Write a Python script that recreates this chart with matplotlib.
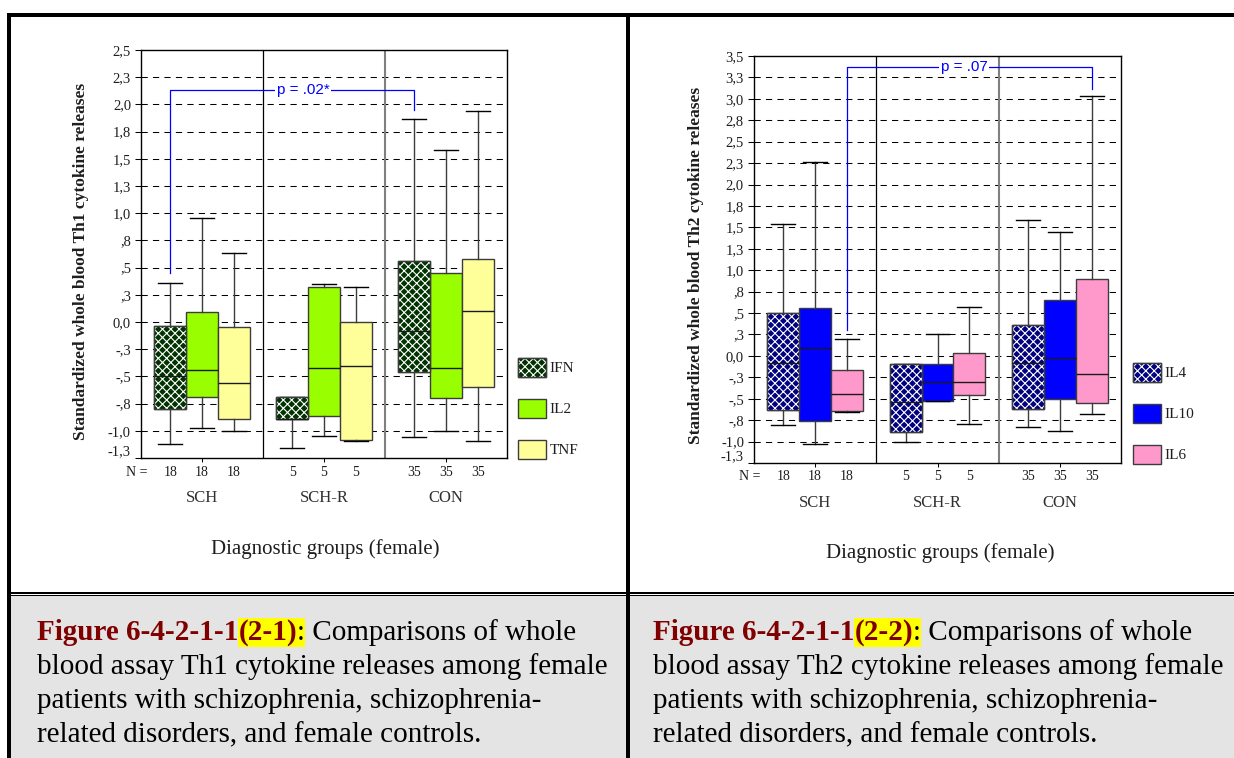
import matplotlib
matplotlib.use('Agg')
import matplotlib.pyplot as plt
from matplotlib.patches import Rectangle, PathPatch
from matplotlib.transforms import Affine2D

W, H = 1234, 758

# ---------------- data ----------------
groups = ['SCH', 'SCH-R', 'CON']
n_per_group = [18, 5, 35]

# five-number summaries per group: [whisker low, Q1, median, Q3, whisker high]
th1_names = ['IFN', 'IL2', 'TNF']
ifn = [[-1.12, -0.80, -0.50, -0.04, 0.36],
       [-1.16, -0.89, -0.89, -0.69, -0.69],
       [-1.06, -0.46, -0.08, 0.56, 1.87]]
il2 = [[-0.97, -0.69, -0.44, 0.09, 0.96],
       [-1.05, -0.86, -0.42, 0.32, 0.35],
       [-1.00, -0.70, -0.42, 0.45, 1.58]]
tnf = [[-1.00, -0.89, -0.56, -0.05, 0.63],
       [-1.09, -1.08, -0.40, 0.00, 0.32],
       [-1.09, -0.60, 0.10, 0.58, 1.94]]

th2_names = ['IL4', 'IL10', 'IL6']
il4 = [[-0.81, -0.63, -0.08, 0.50, 1.54],
       [-1.01, -0.89, -0.54, -0.10, -0.10],
       [-0.83, -0.62, -0.08, 0.36, 1.59]]
il10 = [[-1.03, -0.76, 0.09, 0.56, 2.26],
        [-0.53, -0.53, -0.30, -0.09, 0.25],
        [-0.88, -0.50, -0.02, 0.65, 1.45]]
il6 = [[-0.66, -0.64, -0.45, -0.16, 0.20],
       [-0.79, -0.46, -0.30, 0.03, 0.57],
       [-0.68, -0.55, -0.21, 0.90, 3.03]]

th1_ticks = [-1.25, -1.0, -0.75, -0.5, -0.25, 0.0, 0.25, 0.5, 0.75, 1.0,
             1.25, 1.5, 1.75, 2.0, 2.25, 2.5]
th1_ticklabels = ['-1,3', '-1,0', '-,8', '-,5', '-,3', '0,0', ',3', ',5', ',8', '1,0',
                  '1,3', '1,5', '1,8', '2,0', '2,3', '2,5']
th2_ticks = th1_ticks + [2.75, 3.0, 3.25, 3.5]
th2_ticklabels = th1_ticklabels + ['2,8', '3,0', '3,3', '3,5']

# significance brackets: (series index, y at left group, y top, y at right group, label, label x)
sig_th1 = (0, 0.45, 2.13, 1.95, 'p = .02*', 1.33)
sig_th2 = (2, 0.30, 3.37, 3.11, 'p = .07', 1.72)

th1_colors = ['#003300', '#99ff00', '#ffff99']
th2_colors = ['#000080', '#0000ff', '#ff99cc']
hatched = [True, False, False]

caption_left = [
    [('Figure 6-4-2-1-1', '#800000', 'bold', False), ('(2-1)', '#800000', 'bold', True),
     (':', 'black', 'normal', True), (' Comparisons of whole', 'black', 'normal', False)],
    [('blood assay Th1 cytokine releases among female', 'black', 'normal', False)],
    [('patients with schizophrenia, schizophrenia-', 'black', 'normal', False)],
    [('related disorders, and female controls.', 'black', 'normal', False)],
]
caption_right = [
    [('Figure 6-4-2-1-1', '#800000', 'bold', False), ('(2-2)', '#800000', 'bold', True),
     (':', 'black', 'normal', True), (' Comparisons of whole', 'black', 'normal', False)],
    [('blood assay Th2 cytokine releases among female', 'black', 'normal', False)],
    [('patients with schizophrenia, schizophrenia-', 'black', 'normal', False)],
    [('related disorders, and female controls.', 'black', 'normal', False)],
]

# ---------------- figure ----------------
SERIF = 'Liberation Serif'
SANS = 'Liberation Sans'
TXT = '#1e1e1e'
plt.rcParams['hatch.linewidth'] = 0.8

fig = plt.figure(figsize=(W / 100, H / 100), dpi=100)
fig.patch.set_facecolor('white')
T = Affine2D().scale(1 / W, -1 / H).translate(0, 1) + fig.transFigure


def prect(x0, y0, x1, y1, **kw):
    r = Rectangle((x0, y0), x1 - x0, y1 - y0, transform=T, **kw)
    fig.add_artist(r)
    return r


# page frame
prect(11, 596, 1234, 758, facecolor='#e4e4e4', lw=0, zorder=0)
for (a, b, c, d) in [(7, 13, 1234, 17), (7, 13, 11, 758), (626, 13, 630, 758),
                     (7, 592.3, 1234, 593.7), (7, 594.7, 1234, 596)]:
    prect(a, b, c, d, facecolor='black', lw=0, zorder=1)

BW = 0.26
HATCH = 'xxxx'


def make_axes(box):
    x0, y0, x1, y1 = box
    return fig.add_axes([x0 / W, 1 - y1 / H, (x1 - x0) / W, (y1 - y0) / H])


def draw_panel(ax, series, colors, ticks, ticklabels, sig, legend_xy, names,
               ylabel, ylabel_xy, xlabel_xy):
    ax.set_xlim(0, 3)
    ax.set_ylim(ticks[0], ticks[-1])
    ax.set_facecolor('white')
    for s in ax.spines.values():
        s.set_linewidth(1.0)
        s.set_color('black')
    for v in ticks[1:-1]:
        ax.axhline(v, color='black', lw=0.75, ls=(0, (6, 5)), zorder=1)
    ax.axvline(1, color='black', lw=0.9, zorder=1.5)
    ax.axvline(2, color='#808080', lw=1.5, zorder=1.5)

    offsets = [-BW, 0, BW]
    centers = [g + 0.5 for g in range(3)]
    for si, stats in enumerate(series):
        pos = [c + offsets[si] for c in centers]
        st = [dict(whislo=s[0], q1=s[1], med=s[2], q3=s[3], whishi=s[4], fliers=[]) for s in stats]
        res = ax.bxp(st, positions=pos, widths=BW, capwidths=0.75 * BW, patch_artist=True,
                     showfliers=False, manage_ticks=False, zorder=3,
                     boxprops=dict(facecolor=colors[si], edgecolor='#3c3c3c', linewidth=1.0),
                     whiskerprops=dict(color='#3c3c3c', linewidth=1.0),
                     capprops=dict(color='black', linewidth=1.0),
                     medianprops=dict(color='#1a1a1a', linewidth=1.0))
        if hatched[si]:
            for b in res['boxes']:
                ax.add_patch(PathPatch(b.get_path(), facecolor='none', edgecolor='white',
                                       hatch=HATCH, lw=0, zorder=3.03))
                ax.add_patch(PathPatch(b.get_path(), facecolor='none', edgecolor='#3c3c3c',
                                       lw=1.0, zorder=3.06))

    # ticks
    ax.set_yticks(ticks)
    ax.set_yticklabels(ticklabels, fontfamily=SERIF, fontsize=10.5, color=TXT)
    ax.get_yticklabels()[0].set_va('bottom')
    ax.set_xticks(centers)
    ax.set_xticklabels([''] * 3)
    ax.tick_params(axis='y', length=4.3, width=0.75, pad=2.9, color='black')
    ax.tick_params(axis='x', length=3, width=0.75, color='black')

    # N row and group labels
    for g in range(3):
        for si in range(3):
            ax.annotate(str(n_per_group[g]), xy=(centers[g] + offsets[si], 0),
                        xycoords=('data', 'axes fraction'), xytext=(0, -14),
                        textcoords='offset pixels', ha='center', va='center',
                        fontsize=10, family=SERIF, color=TXT, annotation_clip=False)
        ax.annotate(groups[g], xy=(centers[g], 0), xycoords=('data', 'axes fraction'),
                    xytext=(0, -40), textcoords='offset pixels', ha='center', va='center',
                    fontsize=12, family=SERIF, color='#303030', annotation_clip=False)
    ax.annotate('N =', xy=(0, 0), xycoords='axes fraction', xytext=(-4, -14),
                textcoords='offset pixels', ha='center', va='center',
                fontsize=10, family=SERIF, color=TXT, annotation_clip=False)

    # significance bracket
    si, yl, yt, yr, lab, tx = sig
    xl = centers[0] + offsets[si]
    xr = centers[2] + offsets[si]
    ax.plot([xl, xl, xr, xr], [yl, yt, yt, yr], color='#0000ff', lw=0.9, zorder=5, clip_on=False)
    ax.text(tx, yt, lab, color='#0000ff', ha='center', va='center', fontsize=11, family=SANS,
            zorder=6, bbox=dict(facecolor='white', edgecolor='none', pad=1.2))

    # legend
    lx, ly = legend_xy
    for si in range(3):
        y0 = ly + si * 41
        prect(lx, y0, lx + 28, y0 + 19, facecolor=colors[si], edgecolor='#3c3c3c', lw=1.0, zorder=3)
        if hatched[si]:
            prect(lx, y0, lx + 28, y0 + 19, facecolor='none', edgecolor='white', hatch=HATCH, lw=0, zorder=3.1)
            prect(lx, y0, lx + 28, y0 + 19, facecolor='none', edgecolor='#3c3c3c', lw=1.0, zorder=3.2)
        fig.text((lx + 32) / W, 1 - (y0 + 10) / H, names[si], ha='left', va='center',
                 fontsize=11, family=SERIF, color=TXT)

    fig.text(ylabel_xy[0] / W, 1 - ylabel_xy[1] / H, ylabel, rotation=90, ha='center', va='center',
             fontsize=12.5, fontweight='bold', family=SERIF, color=TXT)
    fig.text(xlabel_xy[0] / W, 1 - xlabel_xy[1] / H, 'Diagnostic groups (female)', ha='center',
             va='center', fontsize=15, family=SERIF, color=TXT)


ax1 = make_axes((141, 50, 507, 458))
draw_panel(ax1, [ifn, il2, tnf], th1_colors, th1_ticks, th1_ticklabels, sig_th1, (517.7, 358.3),
           th1_names, 'Standardized whole blood Th1 cytokine releases', (81, 261), (325, 549))
ax2 = make_axes((754, 56, 1121, 463))
draw_panel(ax2, [il4, il10, il6], th2_colors, th2_ticks, th2_ticklabels, sig_th2, (1132.7, 363.3),
           th2_names, 'Standardized whole blood Th2 cytokine releases', (696, 265), (940, 553))

# ---------------- captions ----------------
renderer = fig.canvas.get_renderer()
probe = fig.text(0, 0, caption_left[1][0][0], fontsize=20, family=SERIF)
cap_size = 20 * 571 / probe.get_window_extent(renderer).width
probe.remove()


def rich_line(x, y, segs):
    cur = x
    hl = []
    for text, color, weight, bg in segs:
        t = fig.text(cur / W, 1 - y / H, text, color=color, fontweight=weight, fontsize=cap_size,
                     family=SERIF, ha='left', va='baseline', zorder=5)
        w = t.get_window_extent(renderer).width
        if bg:
            hl.append((cur, cur + w))
        cur += w
    if hl:
        prect(hl[0][0], y - 22, hl[-1][1], y + 7, facecolor='#ffff00', lw=0, zorder=2)


for x0, cap in [(37, caption_left), (653, caption_right)]:
    for i, segs in enumerate(cap):
        rich_line(x0, 640 + 34 * i, segs)

fig.savefig('out.png', dpi=100)
